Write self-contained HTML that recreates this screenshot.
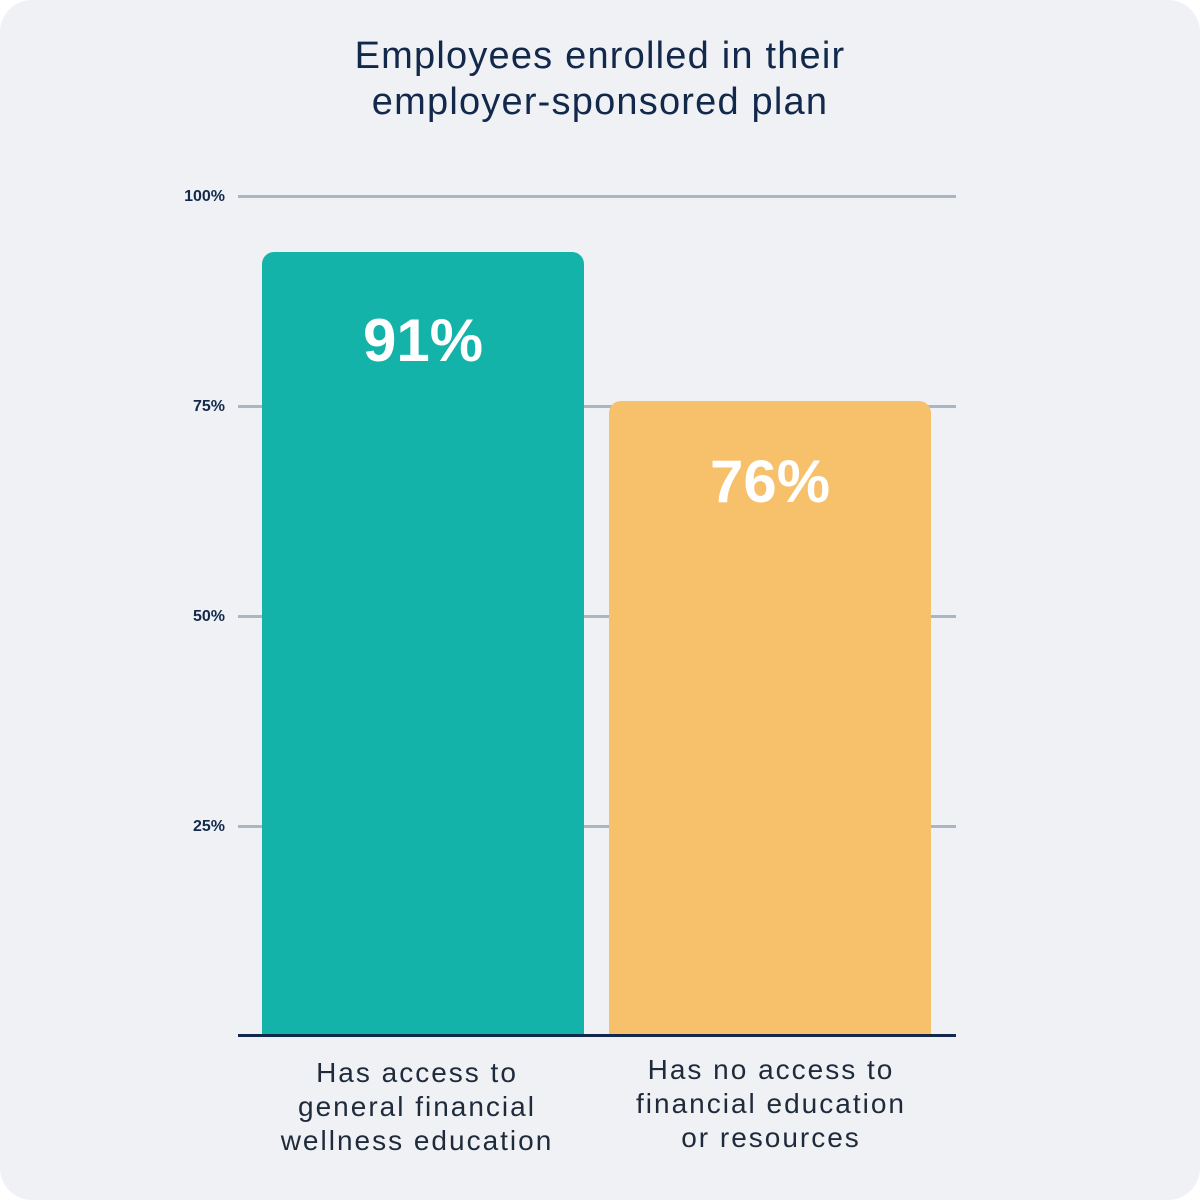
<!DOCTYPE html>
<html><head><style>
html,body{margin:0;padding:0;background:#fff;}
#c{position:relative;width:1200px;height:1200px;background:#eff1f5;border-radius:32px;overflow:hidden;font-family:"Liberation Sans",sans-serif;color:#13294b;}
.t{position:absolute;left:0;width:1200px;text-align:center;font-size:38px;letter-spacing:1.2px;line-height:46px;top:33px;color:#13294b;}
.g{position:absolute;left:238px;width:718px;height:3px;background:#abb6c4;}
.yl{position:absolute;left:150px;width:75px;text-align:right;font-size:16px;font-weight:bold;color:#13294b;}
.bar{position:absolute;border-radius:12px 12px 0 0;}
.v{position:absolute;width:322px;text-align:center;color:#fff;font-weight:bold;font-size:60px;}
.xl{position:absolute;width:400px;text-align:center;font-size:28px;letter-spacing:2px;line-height:34px;color:#1f2a3a;}
</style></head><body><div id="c">
<div class="t">Employees enrolled in their<br>employer-sponsored plan</div>
<div class="g" style="top:195px"></div>
<div class="g" style="top:405px"></div>
<div class="g" style="top:615px"></div>
<div class="g" style="top:825px"></div>
<div class="yl" style="top:188px">100%</div>
<div class="yl" style="top:398px">75%</div>
<div class="yl" style="top:608px">50%</div>
<div class="yl" style="top:818px">25%</div>
<div class="bar" style="left:262px;top:252px;width:322px;height:784px;background:#14b3aa"></div>
<div class="bar" style="left:609px;top:401px;width:322px;height:635px;background:#f7c06b"></div>
<div class="v" style="left:262px;top:306px">91%</div>
<div class="v" style="left:609px;top:447px">76%</div>
<div style="position:absolute;left:238px;top:1034px;width:718px;height:3px;background:#13294b"></div>
<div class="xl" style="left:217px;top:1056px">Has access to<br>general financial<br>wellness education</div>
<div class="xl" style="left:571px;top:1053px">Has no access to<br>financial education<br>or resources</div>
</div></body></html>
